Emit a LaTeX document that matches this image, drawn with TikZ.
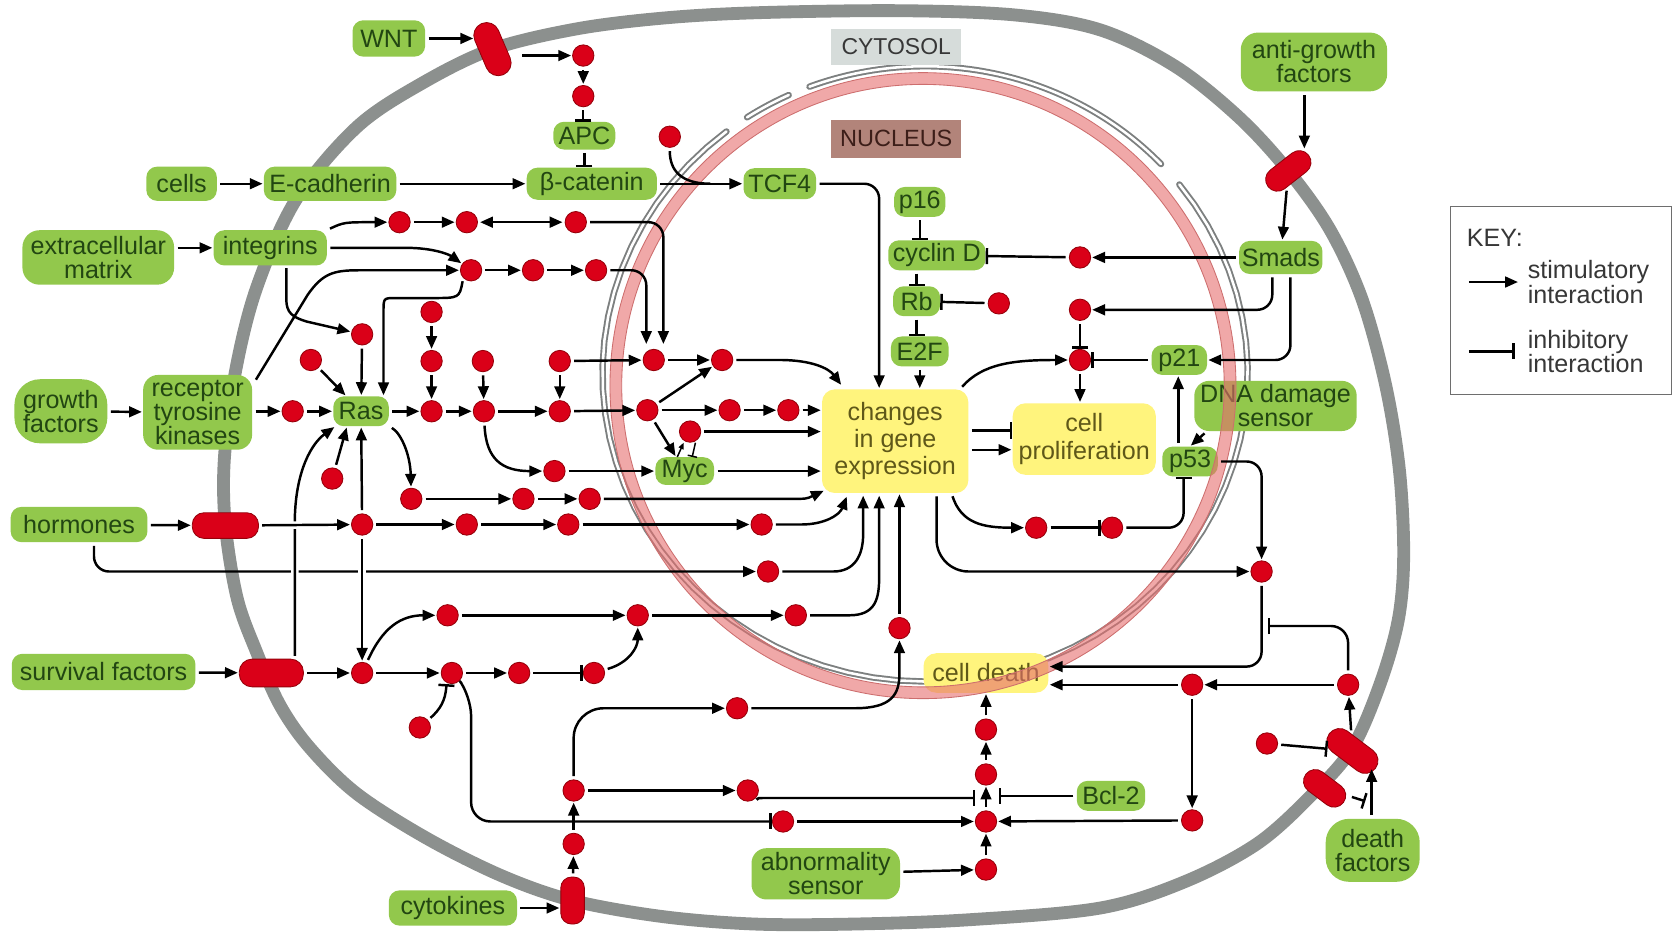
\documentclass[tikz,border=0pt]{standalone}
\usepackage{fontspec}
\setmainfont{Liberation Sans}
\usetikzlibrary{arrows.meta,shapes.geometric}
\definecolor{boxgreen}{RGB}{146,200,76}
\definecolor{textgreen}{RGB}{34,70,18}
\definecolor{boxyellow}{RGB}{255,244,125}
\definecolor{textyellow}{RGB}{95,88,25}
\definecolor{dotred}{RGB}{218,0,24}
\definecolor{dotrim}{RGB}{150,0,10}
\definecolor{memgray}{RGB}{140,144,142}
\definecolor{tubegray}{RGB}{125,128,128}
\definecolor{pinkfill}{RGB}{230,110,110}
\definecolor{pinkedge}{RGB}{205,110,110}
\definecolor{cytofill}{RGB}{214,220,218}
\definecolor{nucfill}{RGB}{178,132,122}
\definecolor{lblgray}{RGB}{55,55,55}
\definecolor{keygray}{RGB}{110,110,110}
\newcommand\lblfont{\fontsize{23.5}{22.5}\selectfont}
\newcommand\ylwfont{\fontsize{23.5}{25.5}\selectfont}
\newcommand\nucarc[2]{%
  \draw[tubegray, line width=6pt, line cap=round] plot[domain=#1:#2, samples=60] ({866+302*cos(\x)}, {350+288*sin(\x)});
  \draw[white, line width=2.4pt, line cap=round] plot[domain=#1:#2, samples=60] ({866+302*cos(\x)}, {350+288*sin(\x)});}
\tikzset{
  gb/.style={fill=boxgreen, rounded corners=10pt, text=textgreen, font=\lblfont, inner sep=0pt, align=center},
  yb/.style={fill=boxyellow, rounded corners=12pt, text=textyellow, font=\ylwfont, inner sep=0pt, align=center},
  dot/.style={circle, fill=dotred, draw=dotrim, line width=0.8pt, minimum size=20pt, inner sep=0pt},
  rec/.style={fill=dotred, draw=dotrim, line width=0.8pt, inner sep=0pt},
  act/.style={line width=2.3pt, -{Triangle[length=12pt,width=10pt]}, shorten <=3pt, shorten >=1pt},
  inh/.style={line width=2.3pt, -{Bar[width=15pt,line width=2.3pt]}, shorten <=3pt},
  ln/.style={line width=2.3pt, shorten <=3pt},
  bi/.style={line width=2.3pt, {Triangle[length=12pt,width=10pt]}-{Triangle[length=12pt,width=10pt]}, shorten <=2pt, shorten >=2pt},
  halo/.style={preaction={draw=white, line width=7pt, -}},
  lbl/.style={font=\lblfont, text=lblgray, inner sep=0pt},
}
\begin{document}
\begin{tikzpicture}[x=1pt, y=-1pt]
\useasboundingbox (0,0) rectangle (1568,877);
\fill[white] (0,0) rectangle (1568,877);

% cell membrane
\draw[memgray, line width=12pt] plot[smooth cycle, tension=0.55] coordinates {
 (461,46) (540,27) (620,17) (706,12) (840,10) (950,14) (1030,28) (1100,62) (1160,110) (1206,160)
 (1245,215) (1275,280) (1297,360) (1310,440) (1314,520) (1309,580) (1292,640) (1266,700) (1230,742)
 (1178,789) (1110,825) (1030,850) (907,861) (800,865) (706,865) (620,858) (536,843) (470,820)
 (400,785) (334,743) (290,700) (262,660) (240,610) (222,560) (211,492) (210,430) (220,350)
 (240,270) (277,187) (334,119) (395,78)};

% inner nuclear membrane (tube with pores)
\nucarc{236.5}{245}
\nucarc{249}{317}
\nucarc{322}{592}

% region labels
\node[fill=cytofill, minimum width=122pt, minimum height=34pt, inner sep=0pt, font=\fontsize{21.5}{22}\selectfont, text=lblgray] (cyto) at (839,44) {CYTOSOL};
\node[fill=nucfill, minimum width=122pt, minimum height=35pt, inner sep=0pt, font=\fontsize{22}{22}\selectfont, text={rgb,255:red,60;green,30;blue,25}] (nucl) at (839,130) {NUCLEUS};

% green boxes
\node[gb, minimum width=68pt, minimum height=34pt] (wnt) at (364,36) {WNT};
\node[gb, minimum width=66pt, minimum height=32pt] (cells) at (170,172) {cells};
\node[gb, minimum width=124pt, minimum height=32pt] (ecad) at (309,172) {E-cadherin};
\node[gb, minimum width=122pt, minimum height=30pt] (bcat) at (554,172) {β-catenin};
\node[gb, minimum width=58pt, minimum height=26pt] (apc) at (547,127) {APC};
\node[gb, minimum width=68pt, minimum height=29pt] (tcf) at (730,172) {TCF4};
\node[gb, minimum width=142pt, minimum height=51pt, rounded corners=16pt] (ecm) at (92,241) {extracellular\\matrix};
\node[gb, minimum width=106pt, minimum height=33pt] (integ) at (253,232) {integrins};
\node[gb, minimum width=48pt, minimum height=28pt] (p16) at (861,189) {p16};
\node[gb, minimum width=91pt, minimum height=28pt] (cycd) at (877,239) {cyclin D};
\node[gb, minimum width=44pt, minimum height=28pt] (rb) at (858,282) {Rb};
\node[gb, minimum width=54pt, minimum height=28pt] (e2f) at (861,329) {E2F};
\node[gb, minimum width=87pt, minimum height=60pt, rounded corners=24pt] (gf) at (57,385) {growth\\factors};
\node[gb, minimum width=102pt, minimum height=70pt, rounded corners=14pt] (rtk) at (185,386) {receptor\\tyrosine\\kinases};
\node[gb, minimum width=52pt, minimum height=28pt] (ras) at (338,385) {Ras};
\node[gb, minimum width=55pt, minimum height=26pt] (myc) at (641,441) {Myc};
\node[gb, minimum width=128pt, minimum height=33pt] (horm) at (74,491) {hormones};
\node[gb, minimum width=172pt, minimum height=34pt] (surv) at (97,629) {survival factors};
\node[gb, minimum width=120pt, minimum height=33pt] (cyt) at (424,850) {cytokines};
\node[gb, minimum width=139pt, minimum height=48pt, rounded corners=14pt] (abn) at (773,818) {abnormality\\sensor};
\node[gb, minimum width=64pt, minimum height=28pt] (bcl) at (1040,745) {Bcl-2};
\node[gb, minimum width=88pt, minimum height=59pt, rounded corners=22pt] (dfac) at (1285,796) {death\\factors};
\node[gb, minimum width=152pt, minimum height=47pt, rounded corners=14pt] (dna) at (1194,380) {DNA damage\\sensor};
\node[gb, minimum width=52pt, minimum height=28pt] (p21) at (1104,337) {p21};
\node[gb, minimum width=52pt, minimum height=28pt] (p53) at (1114,432) {p53};
\node[gb, minimum width=78pt, minimum height=31pt] (smads) at (1199,241) {Smads};
\node[gb, minimum width=137pt, minimum height=55pt, rounded corners=16pt] (agf) at (1230,58) {anti-growth\\factors};

% yellow boxes
\node[yb, minimum width=137pt, minimum height=97pt] (chg) at (838,413) {changes\\in gene\\expression};
\node[yb, minimum width=134pt, minimum height=67pt] (prolif) at (1015,411) {cell\\proliferation};
\node[yb, minimum width=117pt, minimum height=37pt] (cdeath) at (923,630) {cell death};

% outer nuclear membrane (pink, translucent)
\fill[pinkfill, opacity=0.6, even odd rule] (864,361) circle[radius=293] (864,361) circle[radius=282];
\draw[pinkedge, line width=0.8pt] (864,361) circle[radius=293];
\draw[pinkedge, line width=0.8pt] (864,361) circle[radius=282];

% receptors
\node[rec, rounded corners=12pt, minimum width=52pt, minimum height=24pt, rotate=-67] (wntr) at (461,46) {};
\node[rec, rounded corners=11pt, minimum width=48pt, minimum height=22pt, rotate=38] (agr) at (1206,160) {};
\node[rec, rounded corners=11pt, minimum width=62pt, minimum height=24pt] (hr) at (211,492) {};
\node[rec, rounded corners=12pt, minimum width=60pt, minimum height=26pt] (sr) at (254,630) {};
\node[rec, rounded corners=10pt, minimum width=22pt, minimum height=44pt] (cr) at (536,843) {};
\node[rec, rounded corners=12pt, minimum width=54pt, minimum height=24pt, rotate=-37] (drec) at (1266,703) {};
\node[rec, rounded corners=11pt, minimum width=44pt, minimum height=22pt, rotate=-37] (srec) at (1240,738) {};

% signalling dots
\foreach \nm/\px/\py in {d1/546/52, d2/546/90, d3/627/128,
  r1a/374/208, r1b/437/208, r1c/539/208, r2a/441/253, r2b/499/253, r2c/558/253,
  r3/339/313, r4/291/337, r5/404/292, r6/404/338, r7/404/385, r8/453/385, r9/452/338,
  r10/524/338, r11/524/385, r0/274/385,
  m1/606/384, m2/612/337, m3/676/337, m4/683/384, m5/738/384, m6/646/404,
  r13/519/441, r14/385/467, r15/490/467, r16/552/467, r17/311/448,
  h1/339/491, h2/437/491, h3/532/491, h4/713/491, h5/719/535,
  s1/339/630, s2/423/630, s3/486/630, s4/556/630, s5/419/576, s6/597/576, s7/745/576, s8/393/681,
  c1/537/790, c2/537/740, c3/700/740, c4/690/663, c5/733/769, c6/842/588,
  a1/923/814, a2/923/769, a3/923/725, a4/923/683,
  b1/1116/641, b2/1116/768, dr/1262/641, dl/1186/696, q/1181/535,
  sm1/1011/241, sm2/1011/290, sm3/1011/337, rb1/935/284, e1/970/494, e2/1041/494}
  {\node[dot] (\nm) at (\px,\py) {};}

% named free ends
\coordinate (wntin) at (444,36);
\coordinate (wntout) at (486,52);
\coordinate (jn) at (665,172);
\coordinate (m2inL) at (605,323);
\coordinate (m2inR) at (621,323);
\coordinate (rtkup) at (238,358);
\coordinate (rasN2) at (359,371);
\coordinate (integS) at (268,248);
\coordinate (m3in) at (788,361);
\coordinate (r16in) at (772,459);
\coordinate (h4in) at (793,464);
\coordinate (h5in) at (808,463);
\coordinate (s7in) at (823,463);
\coordinate (srN) at (276,617);
\coordinate (hormS) at (88,508);
\coordinate (c3bar) at (913,747);
\coordinate (bclbar) at (935,745);
\coordinate (drecin) at (1284,719);
\coordinate (dfacN) at (1284,766);
\coordinate (srecbar) at (1278,750);
\coordinate (qbar) at (1187,586);
\coordinate (agfS) at (1221,86);
\coordinate (agrin) at (1221,140);

% WNT / beta-catenin
\draw[act] (wnt.east) -- (wntin);
\draw[act] (wntout) -- (d1);
\draw[act] (d1) -- (d2);
\draw[inh] (d2) -- (d2 |- apc.north);
\draw[inh] (apc.south) -- (apc.south |- bcat.north);
\draw[ln] (d3) .. controls (627,160) and (638,172) .. (jn);
\draw[act] (bcat) -- (tcf);
\draw[act, rounded corners=14pt] (tcf.east) -| ([xshift=-15pt]chg.north);
\draw[act] (cells) -- (ecad);
\draw[act] (ecad) -- (bcat);
\draw[act] (ecm.east |- integ) -- (integ);

% integrins
\draw[act] (integ.north east) .. controls (322,208) .. (r1a);
\draw[act] (r1a) -- (r1b);
\draw[bi] (r1b) -- (r1c);
\draw[act, rounded corners=14pt] (r1c) -| (m2inR);
\draw[act] (integ.east) -- (380,232) .. controls (405,232) and (420,238) .. (r2a);
\draw[act] (rtkup) -- (288,276) .. controls (302,256) and (312,253) .. (336,253) -- (r2a);
\draw[act] (r2a) -- (r2b);
\draw[act] (r2b) -- (r2c);
\draw[act, rounded corners=14pt] (r2c) -| (m2inL);
\draw[act] (r2a.south west) .. controls (430,279) .. (405,279) -- (370,279) .. controls (359,279) .. (359,292) -- (rasN2);
\draw[act] (integS) -- (268,280) .. controls (268,293) and (274,297) .. (287,301) -- (r3);

% Ras region
\draw[act] (r3) -- (ras);
\draw[act] (r4) -- (ras);
\draw[act] (r5) -- (r6);
\draw[act] (r6) -- (r7);
\draw[act] (gf) -- (rtk);
\draw[act] (rtk.east |- r0) -- (r0);
\draw[act] (r0) -- (ras);
\draw[act] (ras) -- (r7);
\draw[act] (r7) -- (r8);
\draw[act] (r9) -- (r8);
\draw[act] (r8) -- (r11);
\draw[act] (r10) -- (r11);
\draw[act] (r10) -- (m2);
\draw[act] (r11) -- (m1);
\draw[act] (m2) -- (m3);
\draw[act] (m1) -- (m3);
\draw[act] (m1) -- (m4);
\draw[act] (m4) -- (m5);
\draw[act] (m5) -- (m5 -| chg.west);
\draw[act] (m3) -- (730,337) .. controls (760,337) and (776,345) .. (m3in);
\draw[act] (m1) -- (myc);
\draw[line width=1.4pt, -{Triangle[length=6pt,width=5pt]}] ([xshift=-7pt]myc.north) -- ([xshift=-6pt]m6.south);
\draw[line width=1.4pt, -{Bar[width=9pt,line width=1.4pt]}] ([xshift=5pt]m6.south) -- ([xshift=7pt]myc.north);
\draw[act] (m6) -- (m6 -| chg.west);
\draw[act] (myc) -- (myc -| chg.west);
\draw[act] (r8) .. controls (455,430) and (470,441) .. (r13);
\draw[act] (r13) -- (myc);
\draw[act] (ras) .. controls (375,405) and (384,425) .. (r14);
\draw[act] (r14) -- (r15);
\draw[act] (r15) -- (r16);
\draw[act] (r16) -- (740,467) .. controls (755,467) .. (r16in);
\draw[act] (r17) -- ([xshift=13pt]ras.south west);

% hormones
\draw[act] (horm) -- (hr);
\draw[act, rounded corners=14pt] (hormS) |- (h5);
\draw[act, halo] (srN) -- (276,485) .. controls (277,440) and (292,415) .. ([xshift=2pt]ras.south west);
\draw[act, halo] (hr) -- (h1);
\draw[act] (h1) -- (ras);
\draw[act, halo] (h1) -- (s1);
\draw[act] (h1) -- (h2);
\draw[act] (h2) -- (h3);
\draw[act] (h3) -- (h4);
\draw[act] (h4) -- (750,491) .. controls (772,491) and (786,482) .. (h4in);
\draw[act] (h5) -- (780,535) .. controls (800,535) and (808,520) .. (808,500) -- (h5in);

% survival factors
\draw[act] (surv) -- (sr);
\draw[act] (sr) -- (s1);
\draw[act] (s1) -- (s2);
\draw[act] (s2) -- (s3);
\draw[inh] (s3) -- (s4);
\draw[act] (s4) .. controls (590,620) and (597,605) .. (s6);
\draw[act] (s1) .. controls (358,588) and (375,576) .. (s5);
\draw[act] (s5) -- (s6);
\draw[act] (s6) -- (s7);
\draw[act] (s7) -- (795,576) .. controls (820,576) and (823,560) .. (823,540) -- (s7in);
\draw[inh] (s8) .. controls (412,664) and (417,656) .. ([xshift=-5pt]s2.south);
\draw[inh, rounded corners=18pt] (s2.south east) -- (441,652) |- (c5);
\draw[act] (c5) -- (a2);

% cytokines
\draw[act] (cyt.east) -- (cr.west |- cyt.east);
\draw[act] (cr) -- (c1);
\draw[act] (c1) -- (c2);
\draw[act] (c2) -- (c3);
\draw[act, rounded corners=28pt] (c2) |- (c4);
\draw[act] (c4) -- (800,663) .. controls (835,663) and (842,650) .. (842,630) -- (c6);
\draw[act] (c6) -- (c6 |- chg.south);
\draw[inh] (c3) .. controls (708,747) .. (722,747) -- (c3bar);
\draw[inh] (bcl) -- (bclbar);

% apoptosis column
\draw[act] (a1) -- (a2);
\draw[act] (a2) -- (a3);
\draw[act] (a3) -- (a4);
\draw[act] (a4) -- (cdeath);
\draw[act] (abn) -- (a1);
\draw[act] (b2) -- (a2);
\draw[act] (b1) -- (b2);
\draw[act] (b1) -- (b1 -| cdeath.east);
\draw[act] (dr) -- (b1);
\draw[act] (drec) -- (dr);
\draw[inh] (dl) -- (drec);
\draw[act] (dfacN) -- (drecin);
\draw[inh] (srec) -- (srecbar);
\draw[act, rounded corners=14pt] (p53) -| (q);
\draw[act, rounded corners=30pt] ([xshift=-30pt]chg.south east) |- (q);
\draw[act, rounded corners=14pt] (q) |- ([yshift=6pt]cdeath.east);
\draw[inh, rounded corners=16pt] (dr) |- (qbar);

% Smads / cell cycle
\draw[act] (agfS) -- (agrin);
\draw[act] (agr) -- (smads);
\draw[act] (smads) -- (sm1);
\draw[inh] (sm1) -- (cycd);
\draw[act, rounded corners=14pt] ([xshift=-8pt]smads.south) |- (sm2);
\draw[act, rounded corners=14pt] ([xshift=9pt]smads.south) |- (p21);
\draw[inh] (sm2) -- (sm3);
\draw[inh] (p21) -- (sm3);
\draw[act] ([xshift=-8pt]chg.north east) .. controls (920,340) and (950,337) .. (sm3);
\draw[act] (sm3) -- (sm3 |- prolif.north);
\draw[inh] (p16.south) -- (p16.south |- cycd.north);
\draw[inh] (cycd.south -| rb) -- (rb.north);
\draw[inh] (rb.south) -- (rb.south |- e2f.north);
\draw[act] (e2f) -- (e2f |- chg.north);
\draw[inh] (rb1) -- (rb);
\draw[inh] ([yshift=10pt]chg.east) -- ([yshift=10pt]chg.east -| prolif.west);
\draw[act] ([yshift=-8pt]chg.east) -- ([yshift=-8pt]chg.east -| prolif.west);
\draw[act] ([xshift=-11pt]p53.north) -- ([xshift=-11pt]p53.north |- p21.south);
\draw[act] ([xshift=12pt]dna.south west) -- (p53.north);
\draw[act] ([xshift=-16pt]chg.south east) .. controls (900,490) and (920,494) .. (e1);
\draw[inh] (e1) -- (e2);
\draw[inh, rounded corners=14pt] (e2) -| ([xshift=-6pt]p53.south);

% key
\node[draw=keygray, line width=1.2pt, minimum width=207pt, minimum height=176pt, inner sep=0pt] (key) at (1461,281) {};
\node[lbl, anchor=west] (keyt) at (1373,223) {KEY:};
\coordinate (k1a) at (1372,264);
\coordinate (k1b) at (1422,264);
\coordinate (k2a) at (1372,329);
\coordinate (k2b) at (1418,329);
\draw[act] (k1a) -- (k1b);
\draw[inh] (k2a) -- (k2b);
\node[lbl, anchor=west, align=left] (k1t) at (1430,264) {stimulatory\\interaction};
\node[lbl, anchor=west, align=left] (k2t) at (1430,329) {inhibitory\\interaction};
\end{tikzpicture}
\end{document}
